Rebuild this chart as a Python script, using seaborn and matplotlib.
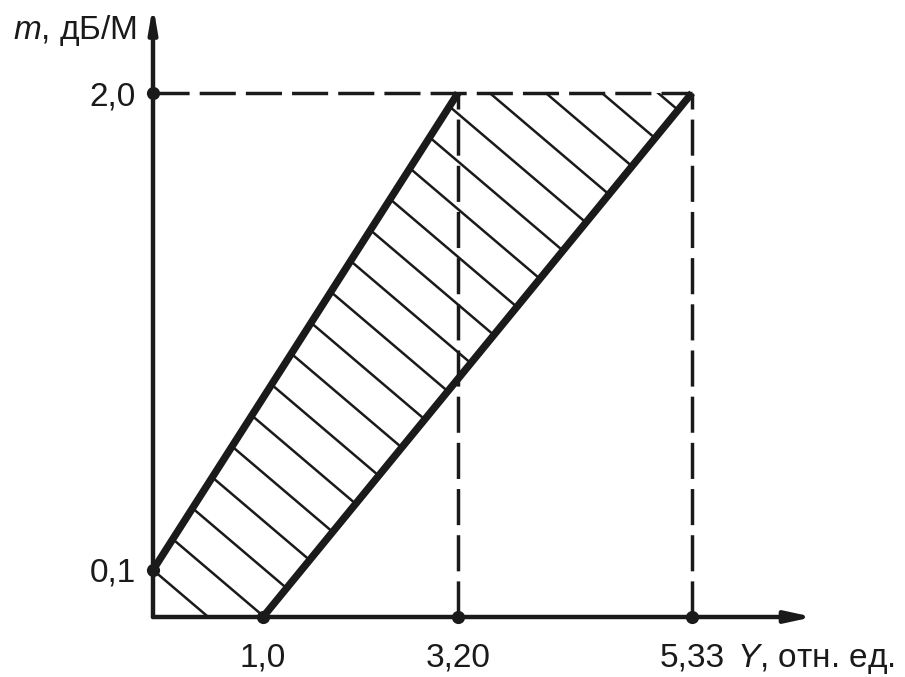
import numpy as np
import matplotlib
matplotlib.use('Agg')
import matplotlib.pyplot as plt
import seaborn as sns
from matplotlib.patches import Polygon
from matplotlib.transforms import Affine2D

# значения с рисунка
x_ticks = [1.0, 3.20, 5.33]
x_tick_labels = ['1,0', '3,20', '5,33']
y_ticks = [0.1, 2.0]
y_tick_labels = ['0,1', '2,0']

# границы заштрихованной области
left_x = [0, 3.20]
left_y = [0.1, 2.0]
right_x = [1.0, 5.33]
right_y = [0, 2.0]
region_x = [0, 0, 3.20, 5.33, 1.0]
region_y = [0, 0.1, 2.0, 2.0, 0]

# точки на осях
dot_x = [0, 0, 1.0, 3.20, 5.33]
dot_y = [0.1, 2.0, 0, 0, 0]

sns.set_theme(style='white')
plt.rcParams['font.family'] = ['Liberation Sans', 'DejaVu Sans']
plt.rcParams['mathtext.fontset'] = 'custom'
plt.rcParams['mathtext.it'] = 'Liberation Sans:italic'
plt.rcParams['mathtext.rm'] = 'Liberation Sans'

W, H = 905, 677
fig = plt.figure(figsize=(W / 100, H / 100), dpi=100)
fig.patch.set_facecolor('white')
x0, y0 = 153, 617  # origin in px
ax_w, ax_h = 813 - x0, y0 - 5
ax = fig.add_axes([x0 / W, (H - y0) / H, ax_w / W, ax_h / H])
ax.set_facecolor('white')

# schematic (non-uniform) axes, piecewise linear in px from origin
xk = [-10, 0] + x_ticks + [20]
xp = [-1100, 0, 110, 305, 539, 539 + (20 - 5.33) * 110]
yk = [-10, 0] + y_ticks + [10]
yp = [-2620, 0, 47, 524, 524 + 8 * 262]


def fx(v):
    return np.interp(v, xk, xp)


def fx_inv(p):
    return np.interp(p, xp, xk)


def fy(v):
    return np.interp(v, yk, yp)


def fy_inv(p):
    return np.interp(p, yp, yk)


ax.set_xscale('function', functions=(fx, fx_inv))
ax.set_yscale('function', functions=(fy, fy_inv))

poly = Polygon(np.column_stack([region_x, region_y]), closed=True,
               facecolor='none', edgecolor='none')
ax.add_patch(poly)

# штриховка (в пикселях от начала координат)
px_tr = Affine2D().scale(1 / ax_w, 1 / ax_h) + ax.transAxes
for k in range(-2, 23):
    b = 47 + 47.7 * k
    hx = np.array([-50, 800])
    hy = b - 0.85 * hx
    ln, = ax.plot(hx, hy, color='k', lw=1.8, transform=px_tr, zorder=2)
    ln.set_clip_path(poly)

# пунктир
dash = (0, (10.4, 2.9))
ax.plot([0, x_ticks[2]], [y_ticks[1], y_ticks[1]], color='k', lw=2.5, ls=dash, zorder=3)
ax.plot([x_ticks[1], x_ticks[1]], [0, y_ticks[1]], color='k', lw=2.5, ls=dash, zorder=3)
ax.plot([x_ticks[2], x_ticks[2]], [0, y_ticks[1]], color='k', lw=2.5, ls=dash, zorder=3)

sns.lineplot(x=left_x, y=left_y, color='k', lw=5.3, ax=ax, zorder=4,
             solid_capstyle='butt')
sns.lineplot(x=right_x, y=right_y, color='k', lw=5.3, ax=ax, zorder=4,
             solid_capstyle='butt')

# оси со стрелками
ax.annotate('', xy=(1, 0), xytext=(0, 0), xycoords='axes fraction',
            textcoords='axes fraction', zorder=5,
            arrowprops=dict(arrowstyle='-|>,head_length=0.78,head_width=0.17',
                            mutation_scale=20, lw=3.2, color='k',
                            shrinkA=0, shrinkB=0))
ax.annotate('', xy=(0, 1), xytext=(0, 0), xycoords='axes fraction',
            textcoords='axes fraction', zorder=5,
            arrowprops=dict(arrowstyle='-|>,head_length=0.7,head_width=0.12',
                            mutation_scale=20, lw=3.2, color='k',
                            shrinkA=0, shrinkB=0))

sns.scatterplot(x=dot_x, y=dot_y, color='k', s=90, linewidth=0, ax=ax,
                zorder=6, clip_on=False)

ax.set_xlim(0, fx_inv(ax_w))
ax.set_ylim(0, fy_inv(ax_h))
ax.set_xticks(x_ticks, x_tick_labels)
ax.set_yticks(y_ticks, y_tick_labels)
ax.minorticks_off()
ax.tick_params(axis='x', length=0, labelsize=24, pad=18.5, colors='k')
ax.tick_params(axis='y', length=0, labelsize=24, pad=12.5, colors='k')
for s in ax.spines.values():
    s.set_visible(False)
ax.grid(False)

fig.text(137 / W, (H - 39) / H, '$m$, дБ/М', ha='right', va='baseline',
         fontsize=24, color='k')
fig.text(737 / W, (H - 667) / H, '$Y$, отн. ед.', ha='left', va='baseline',
         fontsize=24, color='k')

fig.savefig('out.png', dpi=100)
